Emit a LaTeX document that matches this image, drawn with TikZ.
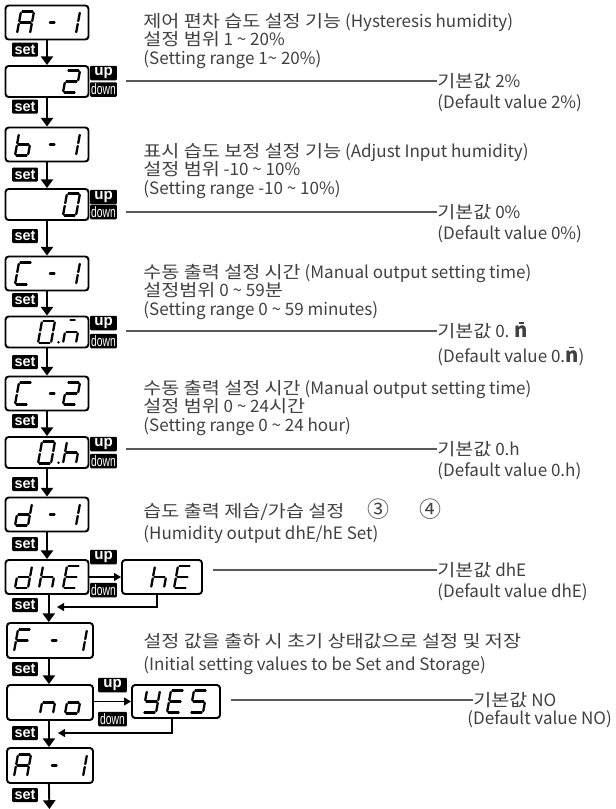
\documentclass[tikz,border=0pt]{standalone}
\usepackage{fontspec}
\setmainfont{Noto Sans CJK KR}
\newfontfamily\keyfont{Liberation Sans}
\usetikzlibrary{arrows.meta, positioning}

% seven segment pieces, origin at bottom left of a 17 x 22 px cell
\newcommand\sega{\draw[segline] (4,-22) -- (17,-22);}
\newcommand\segb{\draw[segline] (17,-22) -- (15,-11);}
\newcommand\segc{\draw[segline] (15,-11) -- (13,0);}
\newcommand\segd{\draw[segline] (0,0) -- (13,0);}
\newcommand\sege{\draw[segline] (2,-11) -- (0,0);}
\newcommand\segf{\draw[segline] (4,-22) -- (2,-11);}
\newcommand\segg{\draw[segline] (2,-11) -- (15,-11);}
\newcommand\segm{\draw[segline, shorten <=2.8pt, shorten >=2pt] (2,-11) -- (15,-11);}
\newcommand\segq{\draw[segline, shorten <=2pt, shorten >=3pt] (4,-23) -- (17,-23);}
\newcommand\segp{\fill (20.5,-0.8) circle (1.4);}
\newcommand\lcdchar[3]{\begin{scope}[shift={(#1,#2)}]
  \foreach \s in #3 {\csname seg\s\endcsname}\end{scope}}

\newcommand\lcdA{a,b,c,e,f,g}
\newcommand\lcddash{m}
\newcommand\lcdone{b,c}
\newcommand\lcdtwo{a,b,g,e,d}
\newcommand\lcdzero{a,b,c,d,e,f}
\newcommand\lcdzerodot{a,b,c,d,e,f,p}
\newcommand\lcdb{c,d,e,f,g}
\newcommand\lcdC{a,d,e,f}
\newcommand\lcdmin{q,c,e,g}
\newcommand\lcdh{c,e,f,g}
\newcommand\lcdd{b,c,d,e,g}
\newcommand\lcdE{a,d,e,f,g}
\newcommand\lcdF{a,e,f,g}
\newcommand\lcdn{c,e,g}
\newcommand\lcdo{c,d,e,g}
\newcommand\lcdY{b,c,d,f,g}
\newcommand\lcdS{a,c,d,f,g}

% wider hangul, as in the printed manual
\newcommand\ko[1]{\scalebox{1.15}[1]{#1}}
\newcommand\minsym{{\fontsize{11.5}{11.5}\selectfont\bfseries
  \ooalign{n\cr\hidewidth\rule[0.68em]{0.25em}{0.09em}\hidewidth\cr}}}
\newcommand\circnum[1]{{\fontsize{12.5}{12.5}\selectfont #1}}
\newcommand\downtxt{\scalebox{0.68}[1]{down}}

\tikzset{
  segline/.style={line width=1.3pt, line cap=round, shorten <=0.8pt, shorten >=0.8pt},
  lcd/.style={draw, line width=1.1pt, rounded corners=1.8pt, minimum width=1.66cm, minimum height=0.68cm, inner sep=0},
  lcdval/.style={lcd, minimum height=0.62cm},
  lcdwide/.style={lcd, minimum width=1.72cm, minimum height=0.7cm},
  setkey/.style={fill=black, text=white, rounded corners=0.6pt, inner sep=0,
    minimum width=0.52cm, minimum height=0.28cm, font=\keyfont\bfseries\fontsize{8.2}{8.2}\selectfont},
  upkey/.style={setkey, minimum width=0.54cm, minimum height=0.29cm, font=\keyfont\bfseries\fontsize{8.6}{8.6}\selectfont},
  downkey/.style={upkey, font=\keyfont\fontsize{8.6}{8.6}\selectfont},
  setflow/.style={line width=1.1pt, -{Triangle[width=7pt,length=5pt]}},
  sideflow/.style={line width=0.8pt, -{Triangle[width=4.5pt,length=4pt]}},
  desc/.style={anchor=west, align=left, inner sep=0, text=black!75,
    font=\fontsize{9.7}{10.6}\selectfont},
  defval/.style={anchor=west, inner sep=0, text=black!75, font=\fontsize{9.7}{10.6}\selectfont},
  defsub/.style={defval, anchor=north west},
  leader/.style={draw=black!65, line width=0.6pt}
}

\begin{document}
\begin{tikzpicture}[x=0.02cm, y=-0.02cm]
  \useasboundingbox (0,0) rectangle (616,809);

  % display frames
  \node[lcd] (lcdAa) at (47,22.5) {};
  \node[lcdval] (lcdTwo) at (47,81.5) {};
  \node[lcd] (lcdBa) at (47,144.5) {};
  \node[lcdval] (lcdZero) at (47,204.5) {};
  \node[lcd] (lcdCa) at (47,273.5) {};
  \node[lcdval] (lcdMin) at (47,332) {};
  \node[lcd] (lcdCb) at (47,393.5) {};
  \node[lcdval] (lcdHour) at (47,452.5) {};
  \node[lcd] (lcdDa) at (47,514.5) {};
  \node[lcd] (lcdDhE) at (47,577) {};
  \node[lcd, minimum width=1.6cm] (lcdHE) at (162,577) {};
  \node[lcdwide] (lcdFa) at (50,640.5) {};
  \node[lcdwide] (lcdNo) at (50,702.5) {};
  \node[lcdwide, minimum width=1.76cm, minimum height=0.66cm] (lcdYes) at (176,701.5) {};
  \node[lcdwide] (lcdAb) at (50,765.5) {};

  % display characters
  \lcdchar{17}{33.5}{\lcdA} \lcdchar{43}{33.5}{\lcddash} \lcdchar{63}{33.5}{\lcdone}
  \lcdchar{63}{92.5}{\lcdtwo}
  \lcdchar{15}{155.5}{\lcdb} \lcdchar{43}{155.5}{\lcddash} \lcdchar{63}{155.5}{\lcdone}
  \lcdchar{63}{215.5}{\lcdzero}
  \lcdchar{15}{284.5}{\lcdC} \lcdchar{43}{284.5}{\lcddash} \lcdchar{63}{284.5}{\lcdone}
  \lcdchar{38}{343}{\lcdzerodot} \lcdchar{63}{343}{\lcdmin}
  \lcdchar{15}{404.5}{\lcdC} \lcdchar{43}{404.5}{\lcddash} \lcdchar{63}{404.5}{\lcdtwo}
  \lcdchar{38}{463.5}{\lcdzerodot} \lcdchar{63}{463.5}{\lcdh}
  \lcdchar{15}{525.5}{\lcdd} \lcdchar{43}{525.5}{\lcddash} \lcdchar{63}{525.5}{\lcdone}
  \lcdchar{15}{588}{\lcdd} \lcdchar{39}{588}{\lcdh} \lcdchar{63}{588}{\lcdE}
  \lcdchar{151}{588}{\lcdh} \lcdchar{174}{588}{\lcdE}
  \lcdchar{14}{651.5}{\lcdF} \lcdchar{45}{651.5}{\lcddash} \lcdchar{70}{651.5}{\lcdone}
  \lcdchar{40}{713.5}{\lcdn} \lcdchar{65}{713.5}{\lcdo}
  \lcdchar{143}{712.5}{\lcdY} \lcdchar{167}{712.5}{\lcdE} \lcdchar{190}{712.5}{\lcdS}
  \lcdchar{14}{776.5}{\lcdA} \lcdchar{45}{776.5}{\lcddash} \lcdchar{70}{776.5}{\lcdone}

  % set keys
  \node[setkey] (setAa) at (25,49.5) {set};
  \node[setkey] (setTwo) at (25,106.5) {set};
  \node[setkey] (setBa) at (25,174.5) {set};
  \node[setkey] (setZero) at (25,236) {set};
  \node[setkey] (setCa) at (25,300) {set};
  \node[setkey] (setMin) at (25,362) {set};
  \node[setkey] (setCb) at (25,421) {set};
  \node[setkey] (setHour) at (25,484) {set};
  \node[setkey] (setDa) at (25,544) {set};
  \node[setkey] (setDhE) at (25,605) {set};
  \node[setkey] (setFa) at (25,669) {set};
  \node[setkey] (setNo) at (25,733) {set};
  \node[setkey] (setAb) at (25,795) {set};

  % up / down keys
  \node[upkey] (upTwo) at (103.5,73) {up};
  \node[downkey] (downTwo) at (103.5,89.5) {\downtxt};
  \node[upkey] (upZero) at (103.5,197) {up};
  \node[downkey] (downZero) at (103.5,212) {\downtxt};
  \node[upkey] (upMin) at (103.5,323) {up};
  \node[downkey] (downMin) at (103.5,341) {\downtxt};
  \node[upkey] (upHour) at (103.5,444) {up};
  \node[downkey] (downHour) at (103.5,461) {\downtxt};
  \node[upkey] (upDhE) at (103.5,557) {up};
  \node[downkey] (downDhE) at (103.5,590) {\downtxt};
  \node[upkey, minimum width=0.58cm] (upNo) at (112.5,685) {up};
  \node[downkey, minimum width=0.58cm] (downNo) at (112.5,719) {\downtxt};

  % set flow
  \draw[setflow] (lcdAa) -- (lcdTwo);
  \draw[setflow] (lcdTwo) -- (lcdBa);
  \draw[setflow] (lcdBa) -- (lcdZero);
  \draw[setflow] (lcdZero) -- (lcdCa);
  \draw[setflow] (lcdCa) -- (lcdMin);
  \draw[setflow] (lcdMin) -- (lcdCb);
  \draw[setflow] (lcdCb) -- (lcdHour);
  \draw[setflow] (lcdHour) -- (lcdDa);
  \draw[setflow] (lcdDa) -- (lcdDhE);
  \draw[setflow] ([xshift=1pt]lcdDhE.south) -- ([xshift=1pt]lcdDhE.south |- lcdFa.north);
  \draw[setflow] ([xshift=-0.6pt]lcdFa.south) -- ([xshift=-0.6pt]lcdNo.north);
  \draw[setflow] ([xshift=-0.6pt]lcdNo.south) -- ([xshift=-0.6pt]lcdAb.north);
  \coordinate (flowEnd) at (49.4,809);
  \draw[setflow] ([xshift=-0.6pt]lcdAb.south) -- (flowEnd);

  % up / down between values
  \draw[sideflow] (lcdDhE) -- (lcdHE);
  \coordinate (backDhE) at (57,607);
  \draw[sideflow] ([xshift=-2.8pt]lcdHE.south) |- (backDhE);
  \draw[sideflow] (lcdNo.east |- lcdYes) -- (lcdYes);
  \coordinate (backNo) at (58,733);
  \draw[sideflow] ([xshift=-2.3pt]lcdYes.south) |- (backNo);

  % descriptions
  \node[desc] (txtHys) at (143,41) {\ko{제어 편차 습도 설정 기능} (Hysteresis humidity)\\\ko{설정 범위} 1 \textasciitilde\ 20\%\\(Setting range 1\textasciitilde\ 20\%)};
  \node[desc] (txtAdj) at (143,171) {\ko{표시 습도 보정 설정 기능} (Adjust Input humidity)\\\ko{설정 범위} -10 \textasciitilde\ 10\%\\(Setting range -10 \textasciitilde\ 10\%)};
  \node[desc] (txtMin) at (143,292) {\ko{수동 출력 설정 시간} (Manual output setting time)\\\ko{설정범위} 0 \textasciitilde\ 59\ko{분}\\(Setting range 0 \textasciitilde\ 59 minutes)};
  \node[desc] (txtHour) at (143,408) {\ko{수동 출력 설정 시간} (Manual output setting time)\\\ko{설정 범위} 0 \textasciitilde\ 24\ko{시간}\\(Setting range 0 \textasciitilde\ 24 hour)};
  \node[desc] (txtOut) at (143,521) {\ko{습도 출력 제습/가습 설정}\hspace{13pt}\circnum{③}\hspace{17pt}\circnum{④}\\[2pt](Humidity output dhE/hE Set)};
  \node[desc] (txtInit) at (143,654) {\ko{설정 값을 출하 시 초기 상태값으로 설정 및 저장}\\[2pt](Initial setting values to be Set and Storage)};

  % default values
  \node[defval] (defTwo) at (437,81) {\ko{기본값} 2\%};
  \node[defsub, below right=3pt and 0pt of defTwo.south west] (defTwoEn) {(Default value 2\%)};
  \node[defval] (defZero) at (437,212) {\ko{기본값} 0\%};
  \node[defsub, below right=3pt and 0pt of defZero.south west] (defZeroEn) {(Default value 0\%)};
  \node[defval] (defMin) at (437,331) {\ko{기본값} 0. \minsym};
  \node[defsub, below right=5pt and 0pt of defMin.south west] (defMinEn) {(Default value 0.\minsym)};
  \node[defval] (defHour) at (437,449) {\ko{기본값} 0.h};
  \node[defsub, below right=3pt and 0pt of defHour.south west] (defHourEn) {(Default value 0.h)};
  \node[defval] (defDhE) at (437,570) {\ko{기본값} dhE};
  \node[defsub, below right=3pt and 0pt of defDhE.south west] (defDhEEn) {(Default value dhE)};
  \node[defval] (defNo) at (473,700) {\ko{기본값} NO};
  \node[defsub, below right=1.5pt and -3.4pt of defNo.south west] (defNoEn) {(Default value NO)};

  % leader lines
  \coordinate (ldTwo) at (126,81);
  \coordinate (ldZero) at (126,212);
  \coordinate (ldMin) at (126,331);
  \coordinate (ldHour) at (126,449);
  \draw[leader] (ldTwo) -- (defTwo.west);
  \draw[leader] (ldZero) -- (defZero.west);
  \draw[leader] (ldMin) -- (defMin.west);
  \draw[leader] (ldHour) -- (defHour.west);
  \draw[leader, shorten <=5.5pt] (lcdHE.east |- defDhE.west) -- (defDhE.west);
  \draw[leader, shorten <=5.5pt] (lcdYes.east |- defNo.west) -- (defNo.west);
\end{tikzpicture}
\end{document}
